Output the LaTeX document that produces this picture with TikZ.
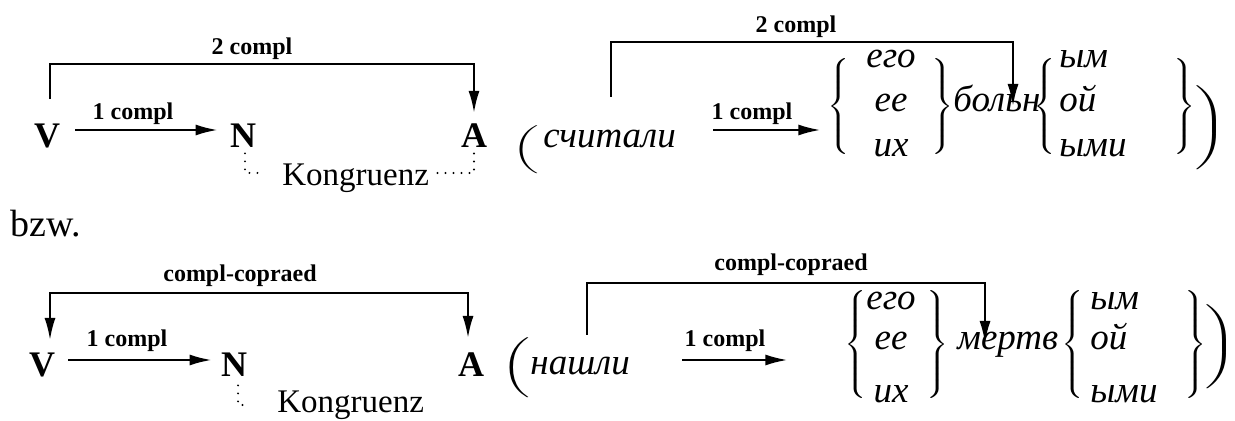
\documentclass[tikz,border=0pt]{standalone}
\usepackage{fontspec}
\setmainfont{Liberation Serif}
\usetikzlibrary{arrows.meta}
\newcommand\LDelim[2]{$\left#1\vcenter{\hrule height #2 width 0pt}\right.\kern-\nulldelimiterspace$}
\newcommand\RDelim[2]{$\kern-\nulldelimiterspace\left.\vcenter{\hrule height #2 width 0pt}\right#1$}
\begin{document}
\begin{tikzpicture}[x=0.5pt,y=-0.5pt]
\tikzset{
 cat/.style={font=\fontsize{18}{20}\selectfont\bfseries, inner sep=0pt, anchor=base},
 word/.style={font=\fontsize{18.5}{20}\selectfont\itshape, inner sep=0pt, anchor=base west},
 wordc/.style={word, anchor=base},
 latin/.style={font=\fontsize{16.5}{19}\selectfont, inner sep=0pt, anchor=base west},
 lab/.style={font=\fontsize{12}{13}\selectfont\bfseries, inner sep=0pt, anchor=base},
 delim/.style={inner sep=0pt, anchor=center, xscale=1.25},
 paren/.style={inner sep=0pt, anchor=center, xscale=1.8},
 link/.style={line width=1.1pt},
 arr/.style={link, -{Latex[length=11pt,width=5.5pt]}},
 arrboth/.style={link, {Latex[length=11pt,width=5.5pt]}-{Latex[length=11pt,width=5.5pt]}},
 dots/.style={line width=1.1pt, line cap=round, dash pattern=on 0pt off 4pt},
}
\useasboundingbox (0,0) rectangle (1235,421);
% ---------------- row 1 ----------------
\node[cat] (V1) at (47,148) {V};
\node[cat] (N1) at (243,148) {N};
\node[cat] (A1) at (474,148) {A};
\node[latin] (K1) at (282,186) {Kongruenz};
\node[lab] (L1a) at (133,120) {1 compl};
\node[lab] (L2a) at (252,55) {2 compl};
\coordinate (c1) at (252,64);
\draw[arr] ([shift={(15,-18)}]V1.base east) -- ([shift={(-12,-18)}]N1.base west);
\draw[arr, shorten >=5.5pt] ([shift={(3,-25)}]V1.north) |- (c1) -| (A1.north);
\draw[dots] ([shift={(2,5)}]N1.south) |- ([shift={(-22,-13)}]K1.base west);
\draw[dots] ([shift={(8,-13)}]K1.base east) -| ([shift={(0,5)}]A1.south);

\node[paren] (P1) at (526,150) {\LDelim{(}{25pt}};
\node[word] (S1) at (543,148) {считали};
\node[delim] (LB1) at (839,107) {\LDelim{\{}{50pt}};
\node[wordc] (E1a) at (891,68) {его};
\node[wordc] (E1b) at (891,112) {ее};
\node[wordc] (E1c) at (891,157) {их};
\node[delim] (RB1) at (943,107) {\RDelim{\}}{50pt}};
\node[word] (B1) at (953,112) {больн};
\node[delim] (LB2) at (1045,107) {\LDelim{\{}{50pt}};
\node[word] (F1a) at (1059,68) {ым};
\node[word] (F1b) at (1059,112) {ой};
\node[word] (F1c) at (1059,157) {ыми};
\node[delim] (RB2) at (1185,107) {\RDelim{\}}{50pt}};
\node[paren] (Q1) at (1211,128) {\RDelim{)}{42pt}};
\node[lab] (L1b) at (752,120) {1 compl};
\node[lab] (L2b) at (796,33) {2 compl};
\coordinate (c2) at (796,42);
\draw[arr] ([shift={(170,-18)}]S1.base west) -- ([shift={(-7,23)}]LB1.west);
\draw[arr] ([shift={(68,-51)}]S1.base west) |- (c2) -| ([shift={(60,-6)}]B1.base west);

% ---------------- bzw. ----------------
\node[latin, font=\fontsize{19}{21}\selectfont] (bzw) at (10,237) {bzw.};

% ---------------- row 2 ----------------
\node[cat] (V2) at (42,377) {V};
\node[cat] (N2) at (234,377) {N};
\node[cat] (A2) at (471,377) {A};
\node[latin] (K2) at (277,413) {Kongruenz};
\node[lab] (L1c) at (127,347) {1 compl};
\node[lab] (L3a) at (240,282) {compl-copraed};
\coordinate (c3) at (240,293);
\draw[arr] ([shift={(13,-17)}]V2.base east) -- ([shift={(-9,-17)}]N2.base west);
\draw[arrboth] ([shift={(8,-37)}]V2.base) |- (c3) -| ([shift={(-3,-39)}]A2.base);
\draw[dots] ([shift={(4,8)}]N2.south) |- ([shift={(-27,-8)}]K2.base west);

\node[paren] (P2) at (516,368) {\LDelim{(}{32pt}};
\node[word] (S2) at (530,375) {нашли};
\node[delim] (LB3) at (856,345) {\LDelim{\{}{58pt}};
\node[wordc] (E2a) at (891,310) {его};
\node[wordc] (E2b) at (891,350) {ее};
\node[wordc] (E2c) at (891,403) {их};
\node[delim] (RB3) at (938,345) {\RDelim{\}}{58pt}};
\node[word] (M2) at (957,350) {мертв};
\node[delim] (LB4) at (1073,345) {\LDelim{\{}{58pt}};
\node[word] (F2a) at (1090,310) {ым};
\node[word] (F2b) at (1090,350) {ой};
\node[word] (F2c) at (1090,403) {ыми};
\node[delim] (RB4) at (1196,345) {\RDelim{\}}{58pt}};
\node[paren] (Q2) at (1221,347) {\RDelim{)}{40pt}};
\node[lab] (L1d) at (725,347) {1 compl};
\node[lab] (L3b) at (791,271) {compl-copraed};
\coordinate (c4) at (791,283);
\draw[arr] ([shift={(152,-15)}]S2.base west) -- ([shift={(-57,15)}]LB3.west);
\draw[arr] ([shift={(57,-40)}]S2.base west) |- (c4) -| ([shift={(28,-7)}]M2.base west);
\end{tikzpicture}
\end{document}
